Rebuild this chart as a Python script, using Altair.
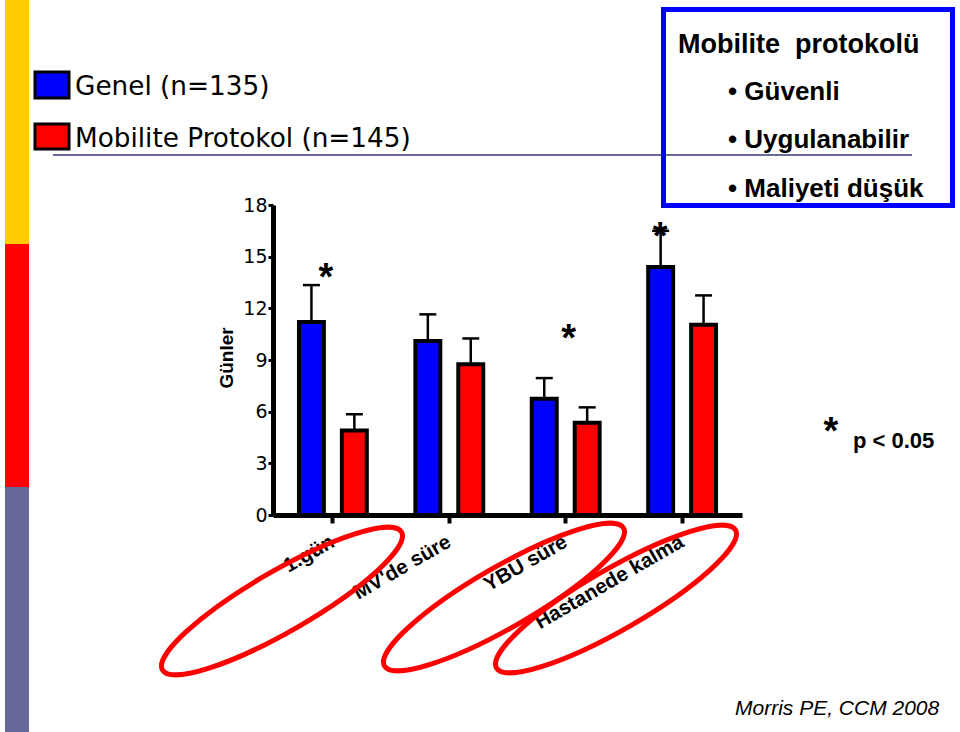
import altair as alt
import pandas as pd

# ---------------- data ----------------
categories = ["1.gün", "MV'de süre", "YBÜ süre", "Hastanede kalma"]
groups = ["Genel (n=135)", "Mobilite Protokol (n=145)"]
genel_mean = [11.2, 10.1, 6.75, 14.4]
genel_err = [2.15, 1.55, 1.2, 2.1]
protokol_mean = [4.9, 8.75, 5.35, 11.05]
protokol_err = [0.95, 1.5, 0.9, 1.7]
y_ticks = [0, 3, 6, 9, 12, 15, 18]
star_cats = ["1.gün", "YBÜ süre", "Hastanede kalma"]
star_y = [13.05, 9.55, 15.45]
box_title = "Mobilite\u00a0 protokolü"
bullets = ["• Güvenli", "• Uygulanabilir", "• Maliyeti düşük"]
sig_note = "p < 0.05"
source_note = "Morris PE, CCM 2008"
y_title = "Günler"

rows = []
for i, c in enumerate(categories):
    rows.append({"category": c, "group": groups[0], "mean": genel_mean[i],
                 "top": genel_mean[i] + genel_err[i]})
    rows.append({"category": c, "group": groups[1], "mean": protokol_mean[i],
                 "top": protokol_mean[i] + protokol_err[i]})
df = pd.DataFrame(rows)
one = pd.DataFrame({"a": [0]})

# ---------------- layout ----------------
OX, OY = 273, 205          # plot origin in page pixels
W, H = 469, 310
FONT = "Liberation Sans"

yscale = alt.Scale(domain=[0, 18], nice=False, zero=True)
xscale = alt.Scale(domain=categories, paddingInner=0.417, paddingOuter=0.223)
xoscale = alt.Scale(domain=groups, paddingInner=0.419, paddingOuter=0)

x_axis = alt.Axis(title=None, domainColor="black", domainWidth=5, tickColor="black",
                  tickWidth=4, tickSize=8, labelAngle=330, labelAlign="right",
                  labelBaseline="middle", labelFont=FONT, labelFontSize=20.5,
                  labelFontWeight="bold", labelColor="black", labelPadding=17,
                  labelOverlap=False, labelLimit=400, grid=False)
y_axis = alt.Axis(title=None, values=y_ticks, domainColor="black", domainWidth=5,
                  tickColor="black", tickWidth=3, tickSize=5, labelFont="DejaVu Sans",
                  labelFontSize=19, labelColor="black", labelPadding=1, grid=False)

X = alt.X("category:N", sort=categories, scale=xscale, axis=x_axis)
XO = alt.XOffset("group:N", sort=groups, scale=xoscale)


def Y(field):
    return alt.Y(field, scale=yscale, axis=y_axis)


rules = alt.Chart(df).mark_rule(color="black", strokeWidth=2.5).encode(
    x=X, xOffset=XO, y=Y("mean:Q"), y2="top:Q")
caps = alt.Chart(df).mark_tick(color="black", thickness=2.5, size=17, opacity=1).encode(
    x=X, xOffset=XO, y=Y("top:Q"))
bars = alt.Chart(df).mark_bar(stroke="black", strokeWidth=4, opacity=1).encode(
    x=X, xOffset=XO, y=Y("mean:Q"),
    color=alt.Color("group:N", scale=alt.Scale(domain=groups, range=["#0000ff", "#ff0000"]),
                    legend=None),
)

layers = [rules, caps, bars]

star_dx = [-7, 3, -22]
star_df = pd.DataFrame({"category": star_cats, "y": star_y})
for i, c in enumerate(star_cats):
    layers.append(
        alt.Chart(star_df).transform_filter(alt.datum.category == c)
        .mark_text(text="*", font=FONT, fontSize=38, fontWeight="bold", color="black",
                   baseline="alphabetic", dx=star_dx[i])
        .encode(x=X, y=Y("y:Q"))
    )


def px(x):
    return alt.value(x - OX)


def py(y):
    return alt.value(y - OY)


def rect(x1, x2, y1, y2, **kw):
    return alt.Chart(one).mark_rect(**kw).encode(x=px(x1), x2=px(x2), y=py(y1), y2=py(y2))


def text(s, x, y, **kw):
    base = dict(font=FONT, color="black", align="left", baseline="alphabetic")
    base.update(kw)
    return alt.Chart(one).mark_text(text=s, **base).encode(x=px(x), y=py(y))


# left colour strip
layers += [
    rect(5, 29, 0, 244, color="#ffcc00"),
    rect(5, 29, 244, 487, color="#ff0000"),
    rect(5, 29, 487, 732, color="#666699"),
]
# legend
layers += [
    rect(35, 69, 72, 98, fill="#0000ff", stroke="black", strokeWidth=3),
    rect(35, 69, 124, 149, fill="#ff0000", stroke="black", strokeWidth=3),
    text(groups[0], 75, 95, font="DejaVu Sans", fontSize=26.3),
    text(groups[1], 75, 147, font="DejaVu Sans", fontSize=26.3),
]
# separator line
layers.append(alt.Chart(one).mark_rule(color="#6b6b9b", strokeWidth=2).encode(
    x=px(53), x2=px(912), y=py(155)))
# info box
layers += [
    rect(663.5, 952.5, 9.5, 205.5, fill="white", fillOpacity=0, stroke="#0000ff", strokeWidth=5),
    text(box_title, 678, 53, fontSize=27, fontWeight="bold"),
    text(bullets[0], 728, 100, fontSize=26, fontWeight="bold"),
    text(bullets[1], 728, 148, fontSize=26, fontWeight="bold"),
    text(bullets[2], 728, 197, fontSize=26, fontWeight="bold"),
]
# y title, significance note, source
layers += [
    text(y_title, 227, 358, fontSize=19, fontWeight="bold", angle=270, align="center",
         baseline="middle"),
    text("*", 831, 444, fontSize=38, fontWeight="bold", align="center"),
    text(sig_note, 853, 448, fontSize=22, fontWeight="bold"),
    text(source_note, 735, 715, fontSize=21, fontStyle="italic"),
]
# red ellipses around the labels
ELLIPSE = ("M -1 0 C -1 -0.1215 -0.5523 -0.22 0 -0.22 C 0.5523 -0.22 1 -0.1215 1 0 "
           "C 1 0.1215 0.5523 0.22 0 0.22 C -0.5523 0.22 -1 0.1215 -1 0 Z")
for cx, cy in [(282, 601), (504, 597), (616, 599)]:
    layers.append(alt.Chart(one).mark_point(
        shape=ELLIPSE, size=76176, angle=330, filled=False, stroke="#ff0000",
        strokeWidth=5, opacity=1).encode(x=px(cx), y=py(cy)))

chart = alt.layer(*layers).properties(
    width=W, height=H,
    padding={"left": OX, "top": OY, "right": 960 - OX - W, "bottom": 732 - OY - H},
    autosize=alt.AutoSizeParams(type="none"),
    background="white",
).configure_view(stroke=None)

chart.save("out.html", embed_options={"renderer": "svg", "actions": False})
